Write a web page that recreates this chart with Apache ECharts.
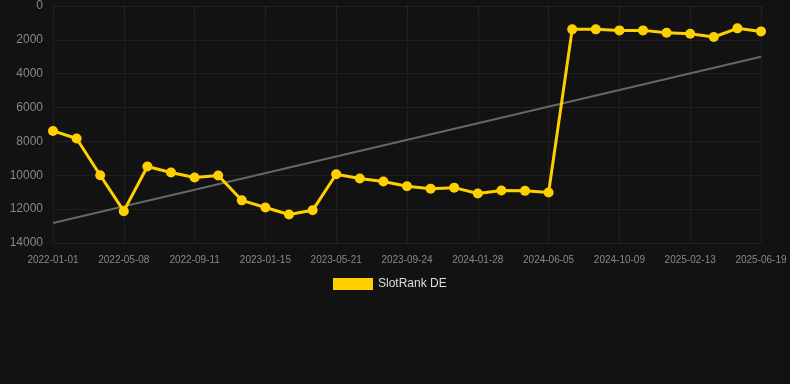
<!DOCTYPE html>
<html><head><meta charset="utf-8">
<script src="https://cdn.jsdelivr.net/npm/echarts@6/dist/echarts.min.js"></script>
<style>html,body{margin:0;padding:0;background:#121212;}#c{width:790px;height:384px;}</style>
</head><body><div id="c"></div>
<script>
const categories = ["2022-01-01","2022-02-12","2022-03-26","2022-05-08","2022-06-19","2022-07-31","2022-09-11","2022-10-23","2022-12-04","2023-01-15","2023-02-26","2023-04-09","2023-05-21","2023-07-02","2023-08-13","2023-09-24","2023-11-05","2023-12-17","2024-01-28","2024-03-10","2024-04-21","2024-06-05","2024-07-17","2024-08-28","2024-10-09","2024-11-20","2025-01-01","2025-02-13","2025-03-27","2025-05-08","2025-06-19"];
const rankDE = [7380,7830,10000,12120,9480,9840,10130,10010,11480,11900,12320,12070,9940,10190,10370,10650,10790,10730,11080,10900,10920,11020,1380,1380,1440,1440,1580,1640,1830,1320,1500];
const trendStart = 12820;
const trendEnd = 3000;
const yTicks = {min:0, max:14000, interval:2000};

const trend = categories.map((c,i)=> i===0 ? trendStart : (i===categories.length-1 ? trendEnd : null));

const chart = echarts.init(document.getElementById('c'), null, {renderer:'canvas'});
chart.setOption({
  backgroundColor:'#121212',
  animation:false,
  grid:{left:53,right:29,top:6,bottom:141},
  legend:{
    data:[{name:'SlotRank DE', icon:'rect'}],
    top:273, left:328,
    itemWidth:40, itemHeight:12, itemGap:10,
    textStyle:{color:'#dddddd', fontSize:12, fontFamily:'Liberation Sans, Arial, sans-serif'}
  },
  xAxis:{
    type:'category', data:categories, boundaryGap:false,
    axisLine:{show:false},
    axisTick:{show:true, interval:2, length:4, lineStyle:{color:'#2a2a2a'}},
    axisLabel:{interval:2, color:'#888', fontSize:10, margin:12, fontFamily:'Liberation Sans, Arial, sans-serif'},
    splitLine:{show:true, interval:2, lineStyle:{color:'#1f1f1f', width:1}}
  },
  yAxis:{
    type:'value', inverse:true, min:yTicks.min, max:yTicks.max, interval:yTicks.interval,
    axisLine:{show:false}, axisTick:{show:false},
    axisLabel:{color:'#888', fontSize:12, margin:10, formatter:(v)=>String(v), fontFamily:'Liberation Sans, Arial, sans-serif'},
    splitLine:{lineStyle:{color:'#1f1f1f', width:1}}
  },
  series:[
    {name:'trend', type:'line', data:trend, connectNulls:true, symbol:'none', silent:true,
     lineStyle:{color:'#666', width:2}, z:1},
    {name:'SlotRank DE', type:'line', data:rankDE, symbol:'circle', symbolSize:10,
     itemStyle:{color:'#ffd000'}, lineStyle:{color:'#ffd000', width:3}, z:2}
  ]
});
</script></body></html>
